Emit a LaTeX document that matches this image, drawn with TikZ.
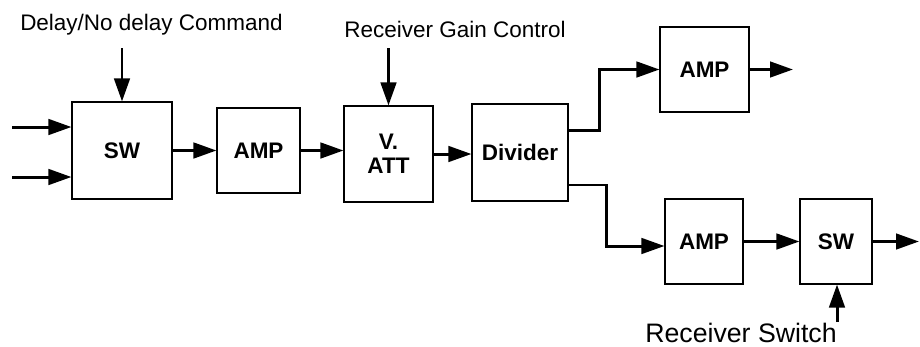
\documentclass[tikz,border=0pt]{standalone}
\usepackage{fontspec}
\setmainfont{Liberation Sans}
\usetikzlibrary{arrows.meta,positioning}

\begin{document}
\begin{tikzpicture}[
    x=0.02cm, y=-0.02cm,
    >={Triangle[length=0.46cm,width=0.31cm]},
    every node/.style={font=\fontsize{12.8}{13.7}\selectfont},
    blk/.style={
        draw,
        line width=0.6pt,
        align=center,
        inner sep=2pt,
        font=\fontsize{12.8}{13.7}\selectfont\bfseries
    },
    sig/.style={->, line width=1.7pt}
]
\useasboundingbox (0,0) rectangle (920,346);

% main chain
\node[blk, minimum width=2cm,    minimum height=1.94cm] (sw1)  at (122,150.5) {SW};
\node[blk, minimum width=1.66cm, minimum height=1.7cm]  (amp1) at (258.5,150.5) {AMP};
\node[blk, minimum width=1.78cm, minimum height=1.92cm] (vatt) at (388.5,154) {V.\\ATT};
\node[blk, minimum width=1.92cm, minimum height=1.94cm] (div)  at (520,152.5) {Divider};

% branches
\node[blk, minimum width=1.78cm, minimum height=1.7cm] (amp2) at (704.5,69.5) {AMP};
\node[blk, minimum width=1.56cm, minimum height=1.7cm] (amp3) at (704,241.5) {AMP};
\node[blk, minimum width=1.44cm, minimum height=1.7cm] (sw2)  at (836,241.5) {SW};

% control labels
\node (delay) at (151.5,25) {Delay/No delay Command};
\node (gain)  at (455,29) {Receiver Gain Control};
\node[font=\fontsize{15.2}{17}\selectfont] (rxsw) at (741,333) {Receiver Switch};

\coordinate (in1)  at (12,127);
\coordinate (in2)  at (12,177);
\coordinate (dly0) at (122,48);
\coordinate (gn0)  at (388.5,48);
\coordinate (rs0)  at (837,322);
\coordinate (out1) at (793,69.5);
\coordinate (out2) at (919,241.5);

% inputs and controls
\draw[sig] (in1) -- (in1 -| sw1.west);
\draw[sig] (in2) -- (in2 -| sw1.west);
\draw[sig] (dly0) -- (sw1.north);
\draw[sig] (gn0) -- (vatt.north);
\draw[sig] (rs0) -- (rs0 |- sw2.south);

% signal path
\draw[sig] (sw1.east) -- (amp1.west);
\draw[sig] (amp1.east) -- (amp1.east -| vatt.west);
\draw[sig] (vatt.east) -- (vatt.east -| div.west);
\draw[sig] ([yshift=0.45cm]div.east) -- ++(31,0) |- (amp2.west);
\draw[sig] ([yshift=-0.65cm]div.east) -- ++(38,0) |- ([yshift=-0.09cm]amp3.west);
\draw[sig] (amp2.east) -- (out1);
\draw[sig] (amp3.east) -- (sw2.west);
\draw[sig] (sw2.east) -- (out2);

\end{tikzpicture}
\end{document}
